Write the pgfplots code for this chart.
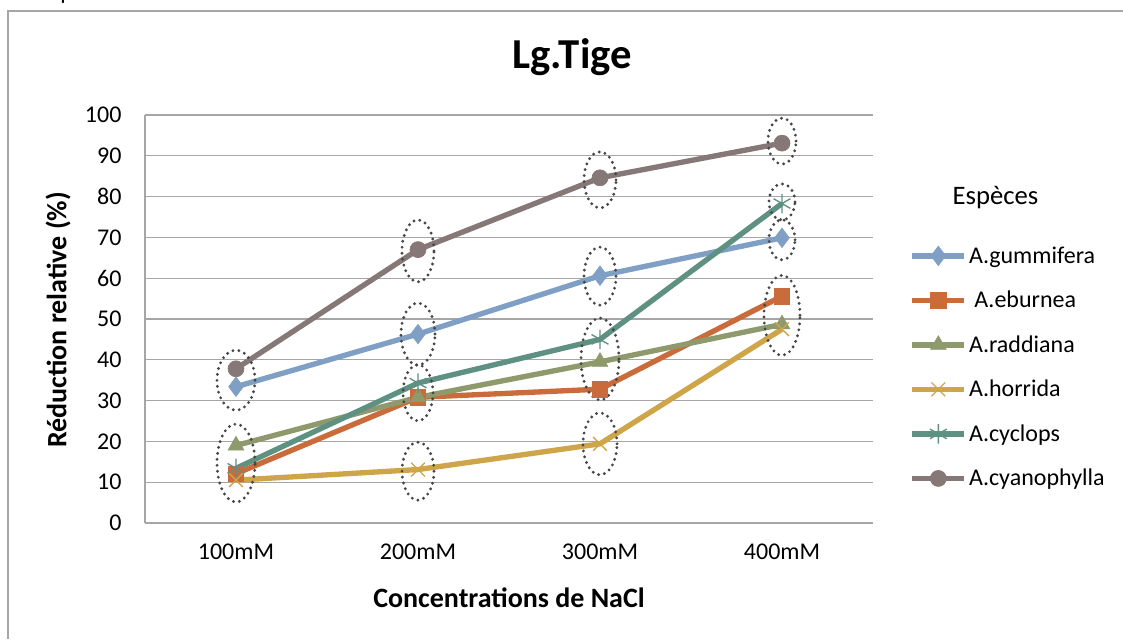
\documentclass[border=0pt]{standalone}
\usepackage{fontspec}
\setmainfont{Carlito}
\usepackage{pgfplots}
\usepackage{pgfplotstable}
\pgfplotsset{compat=1.18}

\definecolor{cgum}{HTML}{7F9FC4}
\definecolor{cebu}{HTML}{C96B3B}
\definecolor{crad}{HTML}{8E9A6C}
\definecolor{chor}{HTML}{CFA54A}
\definecolor{ccyc}{HTML}{5E9182}
\definecolor{ccya}{HTML}{857877}
\definecolor{frame}{HTML}{A6A6A6}

% relative reduction of stem length, per NaCl concentration
\pgfplotstableread{
x gum ebu rad hor cyc cya
0 33.4 12.1 19.0 10.5 13.4 37.8
1 46.3 30.8 30.8 13.1 34.3 67.0
2 60.6 32.8 39.5 19.4 45.0 84.6
3 69.9 55.6 48.7 47.5 78.3 93.1
}\tige

\begin{document}
\begin{tikzpicture}[
  ell/.style={draw=black!72, line width=2.4pt, line cap=round, dash pattern=on 0pt off 4.5pt},
  ser/.style={line width=4pt}]
\path[use as bounding box] (0,0) rectangle (842.25pt,479.25pt);
\draw[frame, line width=0.9pt] (6pt,0) -- (6pt,471pt) -- (843pt,471pt);
\begin{scope}
  \clip (0,475.4pt) rectangle (100pt,479.25pt);
  \node[anchor=base, font=\fontsize{18}{20}\selectfont, inner sep=0pt] at (50pt,479.5pt) {p};
\end{scope}

\begin{axis}[
  at={(108.75pt,87pt)}, anchor=south west,
  scale only axis, width=546pt, height=306pt,
  xmin=-0.5, xmax=3.5, ymin=0, ymax=100,
  xtick=data, xticklabels={100mM,200mM,300mM,400mM},
  ytick={0,10,...,100},
  axis lines=left, axis line style={frame, line width=0.9pt, -},
  tick style={draw=none},
  ymajorgrids, grid style={frame, line width=0.9pt},
  tick label style={font=\fontsize{18}{20}\selectfont},
  /pgf/number format/assume math mode=true,
  yticklabel style={xshift=-12pt},
  xticklabel style={yshift=-10pt},
  clip=false,
  legend cell align=left,
  legend style={at={(1.05,0.683)}, anchor=north west, draw=none, fill=none,
    font=\fontsize{18}{20}\selectfont, row sep=16.4pt, inner sep=0pt,
    nodes={inner sep=1.5pt}},
  legend image code/.code={\draw[mark repeat=2, mark phase=2, #1]
    plot coordinates {(0pt,0pt) (19.5pt,0pt) (39pt,0pt)};},
]
\addplot[ser, cgum, mark=diamond*, mark size=7.3pt, mark options={line width=0.5pt}] table[y=gum] {\tige};
\addplot[ser, cebu, mark=square*, mark size=5.8pt, mark options={line width=0.5pt}] table[y=ebu] {\tige};
\addplot[ser, crad, mark=triangle*, mark size=6.8pt, mark options={line width=0.5pt}] table[y=rad] {\tige};
\addplot[ser, chor, mark=x, mark size=7.3pt, mark options={line width=1pt}] table[y=hor] {\tige};
\addplot[ser, ccyc, mark=asterisk, mark size=7.3pt, mark options={line width=1pt}] table[y=cyc] {\tige};
\addplot[ser, ccya, mark=*, mark size=6pt, mark options={line width=0.5pt}] table[y=cya] {\tige};
\legend{A.gummifera,\ A.eburnea,A.raddiana,A.horrida,A.cyclops,A.cyanophylla}

% dotted ellipses grouping the points
\draw[ell] (axis cs:0,35.0) ellipse [x radius=14.25pt, y radius=22.5pt];
\draw[ell] (axis cs:0,14.7) ellipse [x radius=14.25pt, y radius=29.25pt];
\draw[ell] (axis cs:1,66.7) ellipse [x radius=12pt, y radius=23.25pt];
\draw[ell] (axis cs:1,46.3) ellipse [x radius=12.75pt, y radius=23.25pt];
\draw[ell] (axis cs:1,31.9) ellipse [x radius=11.25pt, y radius=21pt];
\draw[ell] (axis cs:1,12.7) ellipse [x radius=12pt, y radius=21.75pt];
\draw[ell] (axis cs:2,84.1) ellipse [x radius=12pt, y radius=21pt];
\draw[ell] (axis cs:2,60.5) ellipse [x radius=12pt, y radius=21.75pt];
\draw[ell] (axis cs:2,40.2) ellipse [x radius=14.25pt, y radius=30.75pt];
\draw[ell] (axis cs:2,19.4) ellipse [x radius=12.75pt, y radius=23.25pt];
\draw[ell] (axis cs:3,93.6) ellipse [x radius=10.5pt, y radius=17.25pt];
\draw[ell] (axis cs:3,78.7) ellipse [x radius=9.75pt, y radius=13.5pt];
\draw[ell] (axis cs:3,69.4) ellipse [x radius=9.75pt, y radius=15pt];
\draw[ell] (axis cs:3,50.9) ellipse [x radius=13.5pt, y radius=30pt];
\end{axis}

\node[font=\fontsize{32}{36}\selectfont\bfseries] at (429pt,436.5pt) {Lg.Tige};
\node[font=\fontsize{21}{24}\selectfont\bfseries] at (381.75pt,30.75pt) {Concentrations de NaCl};
\node[font=\fontsize{21}{24}\selectfont\bfseries, rotate=90] at (43.5pt,239.25pt) {Réduction relative (\%)};
\node[font=\fontsize{20}{24}\selectfont] at (746.6pt,330.75pt) {Espèces};
\end{tikzpicture}
\end{document}
